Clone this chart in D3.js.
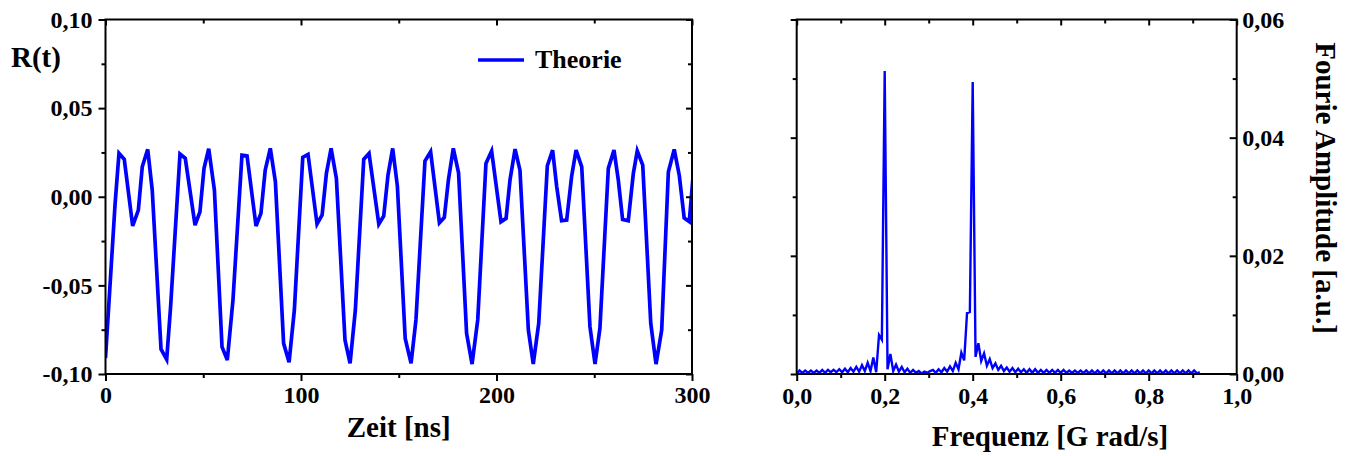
<!DOCTYPE html>
<html><head><meta charset="utf-8">
<script src="https://cdn.jsdelivr.net/npm/d3@7"></script>
<style>
html,body{margin:0;padding:0;background:#fff;}
svg{display:block;}
text{font-family:"Liberation Serif","Times New Roman",serif;font-weight:bold;fill:#000;}
.tick text{font-family:"Liberation Serif","Times New Roman",serif;font-weight:bold;font-size:24px;fill:#000;}
.tick line{stroke:#000;stroke-width:2;}
</style></head><body>
<svg id="chart" width="1354" height="456"></svg>
<script>
// ---- left panel data: R(t) (t in ns) ----
const timeNs = [
  0, 4.9, 6.9, 9.6, 13.9, 16.8, 18.8, 21.6, 23.9, 28.4, 31.3,
  33.3, 38.1, 40.8, 45.8, 48.3, 50.4, 52.8, 55.7, 59.6, 62.3,
  65.2, 69.8, 72.4, 77.0, 79.5, 81.7, 84.3, 86.9, 91.1, 93.9,
  96.6, 100.9, 103.6, 108.2, 110.8, 113.0, 115.4, 118.1, 122.5, 125.1,
  127.8, 132.1, 134.8, 139.8, 142.3, 144.5, 146.9, 149.3, 153.3, 156.3,
  158.8, 163.4, 166.3, 170.8, 173.3, 175.4, 177.9, 180.6, 184.7, 187.5,
  190.4, 194.6, 197.5, 202.3, 204.9, 206.9, 209.5, 212.0, 216.3, 218.8,
  221.6, 226.0, 228.7, 230.8, 233.3, 235.9, 238.4, 240.7, 243.6, 247.8, 250.4,
  252.9, 257.2, 260.1, 262.3, 264.5, 267.4, 270.0, 272.0, 274.8, 278.9, 281.6,
  284.5, 287.9, 290.9, 293.5, 296.0, 298.6, 301.2
];
const rValues = [
  -0.091, -0.004, 0.0245, 0.0211, -0.0165, -0.0075, 0.0169, 0.0267, 0.0038, -0.086, -0.0918,
  -0.062, 0.0241, 0.0217, -0.016, -0.0085, 0.016, 0.0271, 0.0038, -0.0847, -0.0922,
  -0.0583, 0.0235, 0.0231, -0.0165, -0.0094, 0.015, 0.0273, 0.0085, -0.0827, -0.0934,
  -0.0639, 0.0222, 0.0239, -0.0154, -0.0103, 0.0132, 0.0273, 0.0103, -0.0808, -0.094,
  -0.0639, 0.0211, 0.0244, -0.0154, -0.0109, 0.0122, 0.0273, 0.006, -0.080, -0.094,
  -0.0695, 0.0201, 0.0254, -0.0147, -0.0117, 0.0094, 0.0273, 0.0135, -0.0771, -0.0944,
  -0.0695, 0.0188, 0.0258, -0.0141, -0.0122, 0.0094, 0.0269, 0.015, -0.0752, -0.0944,
  -0.0714, 0.0175, 0.0263, 0.0056, -0.0135, -0.0132, 0.0113, 0.0263, 0.0169, -0.0733, -0.0944,
  -0.0742, 0.016, 0.0263, 0.0094, -0.0128, -0.0135, 0.0132, 0.0259, 0.0179, -0.0714, -0.0944,
  -0.0752, 0.014, 0.0267, 0.012, -0.012, -0.014, 0.02
];
const legendLabel = "Theorie";
const timeTicks = [0, 100, 200, 300];
const timeMinor = [50, 150, 250];
const rTicks = [-0.10, -0.05, 0.00, 0.05, 0.10];
const rMinor = [-0.075, -0.025, 0.025, 0.075];

// ---- right panel data: Fourier amplitude ----
const freqStep = 0.2 / 31;   // spacing of the frequency samples (G rad/s)
const fourierAmp = [
  0, 0.0006, 0.0002, 0.0006, 0.0002, 0.0006, 0.0002, 0.0006, 0.0002, 0.0007,
  0.0002, 0.0007, 0.0003, 0.0007, 0.0003, 0.0008, 0.0003, 0.0009, 0.0003, 0.0010,
  0.0004, 0.0012, 0.0004, 0.0015, 0.0005, 0.0019, 0.0005, 0.0028, 0.0003, 0.0066,
  0.0058, 0.0513, 0.0008, 0.0034, 0.0005, 0.0016, 0.0004, 0.0012, 0.0003, 0.0009,
  0.0002, 0.0007, 0.0002, 0.0005, 0.0001, 0.0004, 0.0002, 0.0005, 0.0007, 0.0002,
  0.0008, 0.0003, 0.0010, 0.0004, 0.0013, 0.0005, 0.0019, 0.0008, 0.0036, 0.0023,
  0.0103, 0.0105, 0.0494, 0.0029, 0.0052, 0.0022, 0.0035, 0.0014, 0.0025, 0.0010,
  0.0018, 0.0007, 0.0014, 0.0005, 0.0011, 0.0004, 0.0010, 0.0003, 0.0009, 0.0003,
  0.0008, 0.0002, 0.0008, 0.0002, 0.0008, 0.0002, 0.0007, 0.0002, 0.0007, 0.0002,
  0.0007, 0.0002, 0.0007, 0.0002, 0.0007, 0.0002, 0.0006, 0.0002, 0.0006, 0.0002,
  0.0006, 0.0002, 0.0006, 0.0001, 0.0006, 0.0001, 0.0006, 0.0001, 0.0006, 0.0001,
  0.0006, 0.0001, 0.0006, 0.0001, 0.0006, 0.0001, 0.0006, 0.0001, 0.0006, 0.0001,
  0.0006, 0.0001, 0.0006, 0.0001, 0.0006, 0.0001, 0.0006, 0.0001, 0.0006, 0.0001,
  0.0006, 0.0001, 0.0006, 0.0001, 0.0006, 0.0001, 0.0006, 0.0001, 0.0006, 0.0001,
  0.0006, 0.0001, 0.0003
];
const freqTicks = [0, 0.2, 0.4, 0.6, 0.8, 1.0];
const freqMinor = [0.1, 0.3, 0.5, 0.7, 0.9];
const ampTicks = [0, 0.02, 0.04, 0.06];
const ampMinor = [0.01, 0.03, 0.05];

const xLabelLeft = "Zeit [ns]";
const yLabelLeft = "R(t)";
const xLabelRight = "Frequenz [G rad/s]";
const yLabelRight = "Fourie Amplitude [a.u.]";

// ---- drawing ----
const loc = d3.formatLocale({decimal: ",", thousands: ".", grouping: [3], currency: ["", ""], minus: "-"});
const f2 = loc.format(".2f"), f1 = loc.format(".1f"), f0 = loc.format("d");
const svg = d3.select("#chart");
const blue = "#0000ff";

function axisGroup(axis, tx, ty) {
  const g = svg.append("g").attr("transform", `translate(${tx},${ty})`).call(axis);
  g.select(".domain").remove();
  return g;
}

// Left panel
const L = {x0: 105.5, x1: 692, y0: 19.5, y1: 374};
const xL = d3.scaleLinear().domain([0, 300]).range([L.x0, L.x1]);
const yL = d3.scaleLinear().domain([-0.1, 0.1]).range([L.y1, L.y0]);

svg.append("clipPath").attr("id", "clipL").append("rect")
  .attr("x", L.x0).attr("y", L.y0).attr("width", L.x1 - L.x0).attr("height", L.y1 - L.y0);

const lineL = d3.line().x(i => xL(timeNs[i])).y(i => yL(rValues[i]));
svg.append("path").datum(d3.range(timeNs.length)).attr("d", lineL)
  .attr("fill", "none").attr("stroke", blue).attr("stroke-width", 3.7)
  .attr("stroke-linejoin", "miter").attr("clip-path", "url(#clipL)");

axisGroup(d3.axisBottom(xL).tickValues(timeTicks).tickSize(7).tickPadding(5).tickFormat(f0), 0, L.y1);
axisGroup(d3.axisBottom(xL).tickValues(timeMinor).tickSize(4).tickFormat(""), 0, L.y1);
axisGroup(d3.axisTop(xL).tickValues(timeTicks).tickSize(-6).tickFormat(""), 0, L.y0);
axisGroup(d3.axisTop(xL).tickValues(timeMinor).tickSize(-4).tickFormat(""), 0, L.y0);
axisGroup(d3.axisLeft(yL).tickValues(rTicks).tickSize(7).tickPadding(6).tickFormat(f2), L.x0, 0);
axisGroup(d3.axisLeft(yL).tickValues(rMinor).tickSize(4).tickFormat(""), L.x0, 0);
axisGroup(d3.axisRight(yL).tickValues(rTicks).tickSize(-6).tickFormat(""), L.x1, 0);
axisGroup(d3.axisRight(yL).tickValues(rMinor).tickSize(-4).tickFormat(""), L.x1, 0);

svg.append("rect").attr("x", L.x0).attr("y", L.y0).attr("width", L.x1 - L.x0).attr("height", L.y1 - L.y0)
  .attr("fill", "none").attr("stroke", "#000").attr("stroke-width", 2);

// legend
svg.append("line").attr("x1", 478).attr("x2", 524).attr("y1", 60).attr("y2", 60)
  .attr("stroke", blue).attr("stroke-width", 3.7);
svg.append("text").attr("x", 535).attr("y", 67.5).attr("font-size", 26).text(legendLabel);

svg.append("text").attr("x", 11).attr("y", 66.5).attr("font-size", 29).text(yLabelLeft);
svg.append("text").attr("x", (L.x0 + L.x1) / 2).attr("y", 437).attr("text-anchor", "middle")
  .attr("font-size", 29).text(xLabelLeft);

// Right panel
const R = {x0: 796.7, x1: 1236.7, y0: 19.5, y1: 374};
const xR = d3.scaleLinear().domain([0, 1]).range([R.x0, R.x1]);
const yR = d3.scaleLinear().domain([0, 0.06]).range([R.y1, R.y0]);

svg.append("clipPath").attr("id", "clipR").append("rect")
  .attr("x", R.x0).attr("y", R.y0 - 2).attr("width", R.x1 - R.x0).attr("height", R.y1 - R.y0 + 2);

const lineR = d3.line().x((d, i) => xR(i * freqStep)).y(d => yR(d));
svg.append("path").datum(fourierAmp).attr("d", lineR)
  .attr("fill", "none").attr("stroke", blue).attr("stroke-width", 2.4)
  .attr("stroke-linejoin", "miter").attr("clip-path", "url(#clipR)");

axisGroup(d3.axisBottom(xR).tickValues(freqTicks).tickSize(7).tickPadding(6).tickFormat(f1), 0, R.y1);
axisGroup(d3.axisBottom(xR).tickValues(freqMinor).tickSize(4).tickFormat(""), 0, R.y1);
axisGroup(d3.axisTop(xR).tickValues(freqTicks).tickSize(-6).tickFormat(""), 0, R.y0);
axisGroup(d3.axisTop(xR).tickValues(freqMinor).tickSize(-4).tickFormat(""), 0, R.y0);
axisGroup(d3.axisLeft(yR).tickValues(ampTicks).tickSize(6).tickFormat(""), R.x0, 0);
axisGroup(d3.axisLeft(yR).tickValues(ampMinor).tickSize(4).tickFormat(""), R.x0, 0);
axisGroup(d3.axisRight(yR).tickValues(ampTicks).tickSize(-7).tickPadding(5.5).tickFormat(f2), R.x1, 0);
axisGroup(d3.axisRight(yR).tickValues(ampMinor).tickSize(-4).tickFormat(""), R.x1, 0);

svg.append("rect").attr("x", R.x0).attr("y", R.y0).attr("width", R.x1 - R.x0).attr("height", R.y1 - R.y0)
  .attr("fill", "none").attr("stroke", "#000").attr("stroke-width", 2);

svg.append("text").attr("x", 1050).attr("y", 446).attr("text-anchor", "middle")
  .attr("font-size", 29).text(xLabelRight);
svg.append("text").attr("transform", "translate(1316,188) rotate(90)").attr("text-anchor", "middle")
  .attr("font-size", 29).text(yLabelRight);
</script>
</body></html>
